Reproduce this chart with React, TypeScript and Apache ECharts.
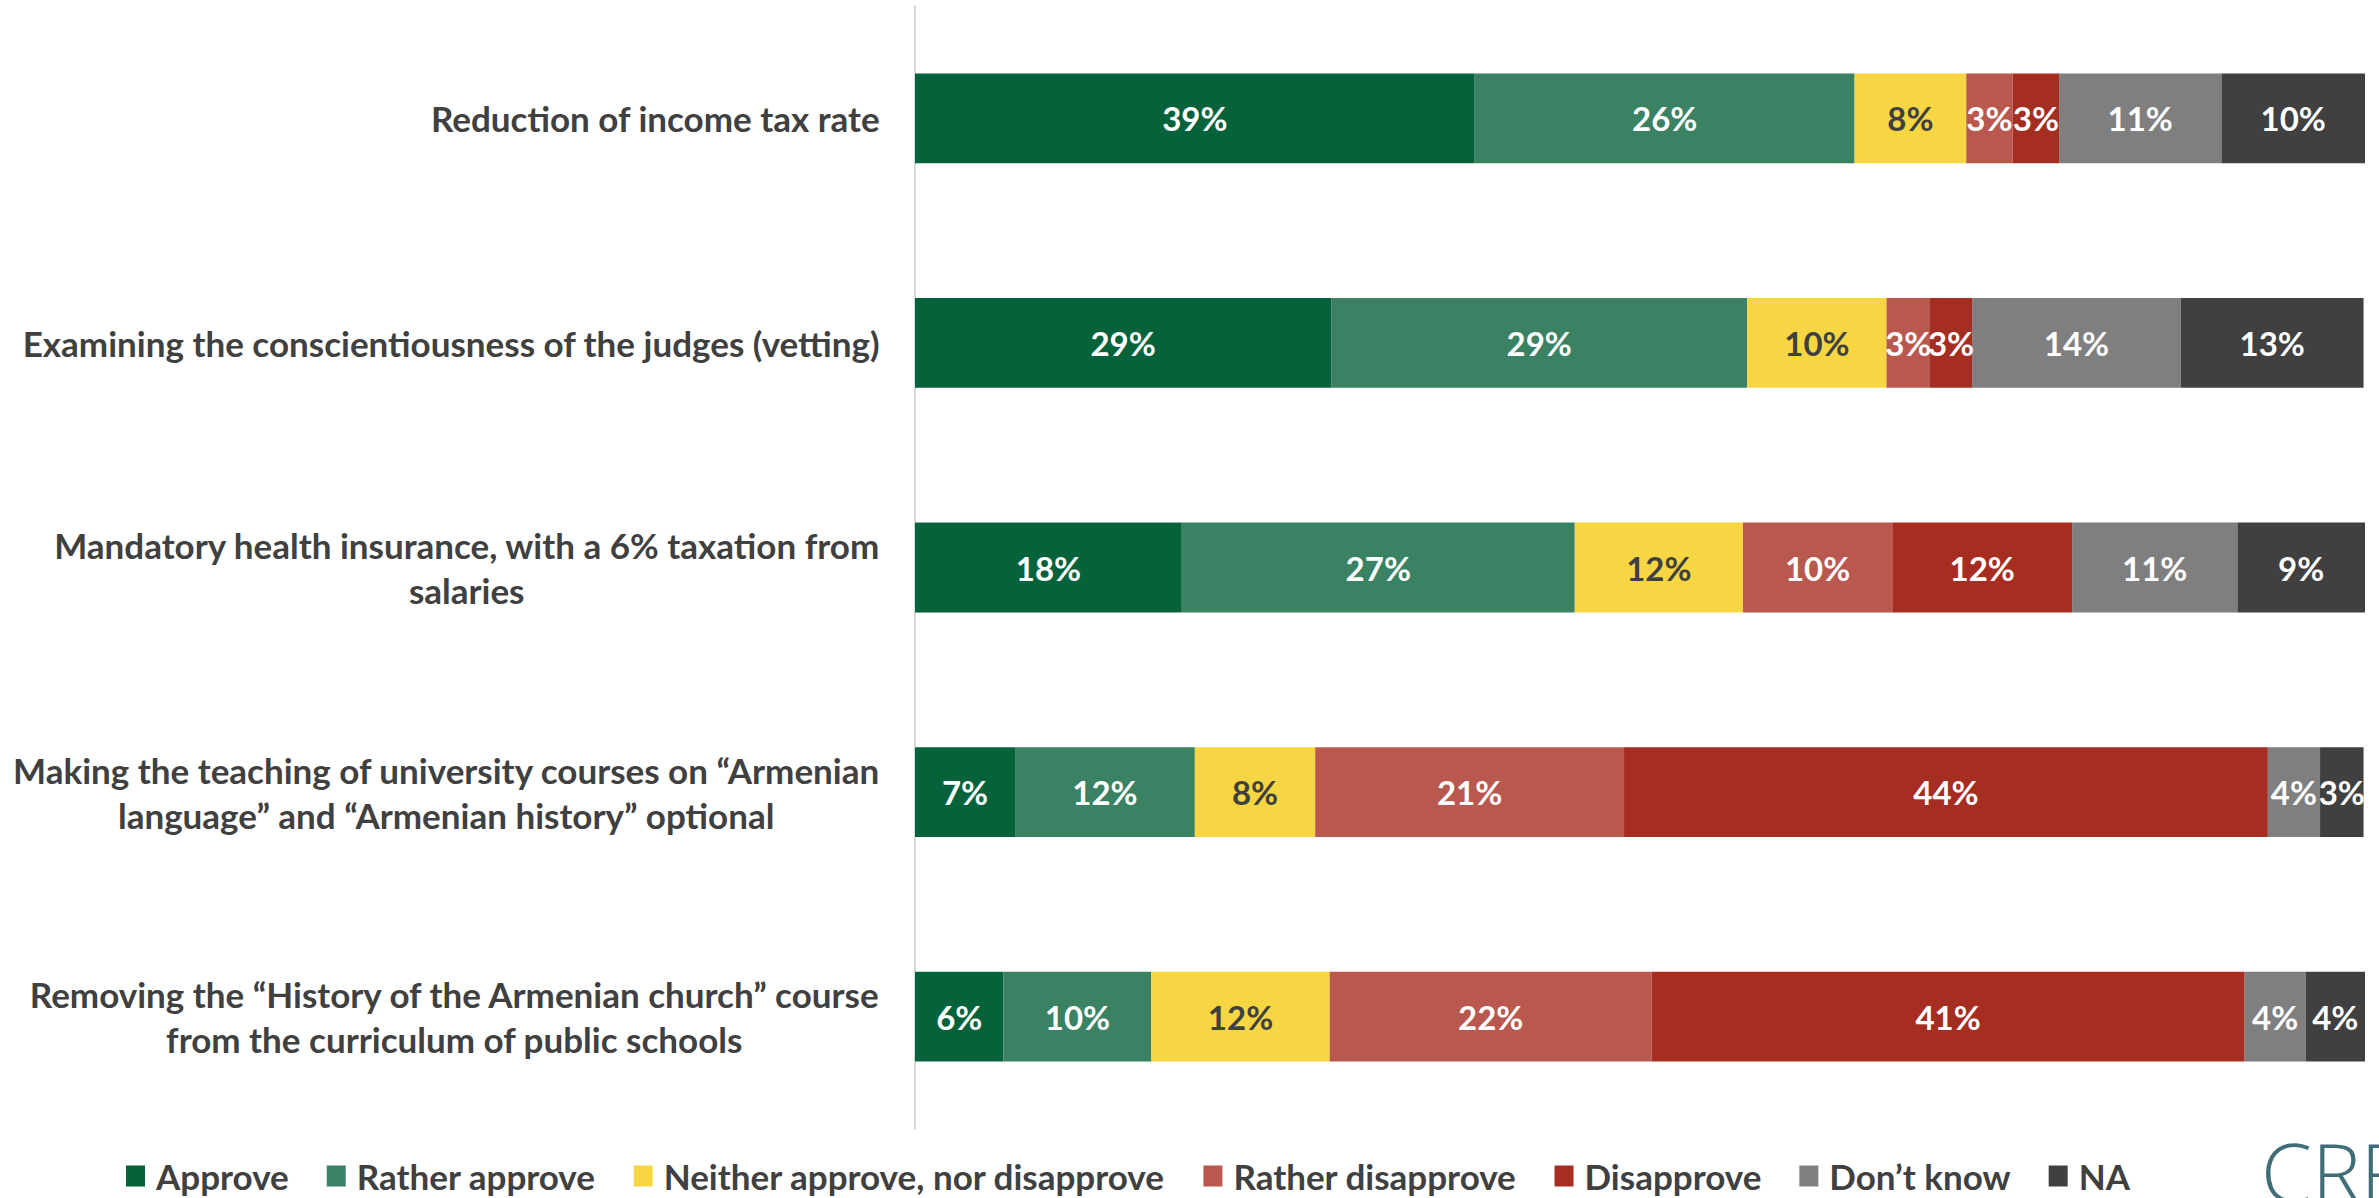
import React, { useEffect, useRef } from "react";
import * as echarts from "echarts";

const categories = [
  "Reduction of income tax rate",
  "Examining the conscientiousness of the judges (vetting)",
  "Mandatory health insurance, with a 6% taxation from\nsalaries",
  "Making the teaching of university courses on “Armenian\nlanguage” and “Armenian history” optional",
  "Removing the “History of the Armenian church” course\nfrom the curriculum of public schools",
];

const seriesNames = [
  "Approve",
  "Rather approve",
  "Neither approve, nor disapprove",
  "Rather disapprove",
  "Disapprove",
  "Don’t know",
  "NA",
];

const approve = [38.6, 28.7, 18.4, 6.9, 6.1];
const ratherApprove = [26.2, 28.7, 27.1, 12.4, 10.2];
const neither = [7.7, 9.6, 11.6, 8.3, 12.3];
const ratherDisapprove = [3.2, 3.0, 10.3, 21.3, 22.2];
const disapprove = [3.2, 2.9, 12.4, 44.4, 40.9];
const dontKnow = [11.2, 14.4, 11.4, 3.6, 4.2];
const na = [10.0, 12.6, 8.8, 3.0, 4.1];

const seriesValues = [approve, ratherApprove, neither, ratherDisapprove, disapprove, dontKnow, na];
const colors = ["#06623B", "#3A8263", "#F6D743", "#B8584E", "#A52D22", "#7F7F7F", "#404040"];
const labelColors = ["#FFFFFF", "#FFFFFF", "#404040", "#FFFFFF", "#FFFFFF", "#FFFFFF", "#FFFFFF"];

const FONT = "Lato, 'Open Sans', sans-serif";

export default function App() {
  const ref = useRef<HTMLDivElement>(null);
  useEffect(() => {
    if (!ref.current) return;
    const chart = echarts.init(ref.current, undefined, { renderer: "svg" });
    chart.setOption({
      animation: false,
      backgroundColor: "#FFFFFF",
      textStyle: { fontFamily: FONT },
      grid: { left: 915, right: 14, top: 6, bottom: 69, containLabel: false },
      xAxis: {
        type: "value",
        min: 0,
        max: 100,
        show: false,
      },
      yAxis: {
        type: "category",
        data: categories,
        inverse: true,
        axisLine: { show: true, lineStyle: { color: "#D9D9D9", width: 2 } },
        axisTick: { show: false },
        splitLine: { show: false },
        axisLabel: {
          margin: 35,
          color: "#404040",
          fontFamily: FONT,
          fontWeight: "bold",
          fontSize: 35,
          lineHeight: 45,
          formatter: (v: string) =>
            v
              .split("\n")
              .map((l) => "{c|" + l + "}")
              .join("\n"),
          rich: {
            c: {
              align: "center",
              color: "#404040",
              fontFamily: FONT,
              fontWeight: "bold",
              fontSize: 35,
              lineHeight: 45,
            },
          },
        },
      },
      legend: {
        data: seriesNames,
        left: 121,
        top: 1153,
        icon: "rect",
        itemWidth: 19,
        itemHeight: 21,
        itemGap: 38,
        textStyle: {
          color: "#404040",
          fontFamily: FONT,
          fontWeight: "bold",
          fontSize: 35,
          lineHeight: 36,
          padding: [0, 0, 0, 6],
        },
      },
      graphic: [
        {
          type: "text",
          x: 2261,
          y: 1170,
          silent: true,
          style: {
            text: "CRRC",
            font: "300 82px 'Open Sans', sans-serif",
            fill: "#3F6E78",
            verticalAlign: "middle",
            align: "left",
          },
        },
      ],
      series: seriesNames.map((name, i) => ({
        name,
        type: "bar",
        stack: "total",
        barCategoryGap: "60%",
        data: seriesValues[i],
        itemStyle: { color: colors[i] },
        label: {
          show: true,
          position: "inside",
          color: labelColors[i],
          fontFamily: FONT,
          fontWeight: "bold",
          fontSize: 33,
          formatter: (p: any) => Math.round(p.value) + "%",
        },
      })),
    });
    return () => chart.dispose();
  }, []);
  return (
    <div
      ref={ref}
      style={{ position: "fixed", left: 0, top: 0, width: 2379, height: 1198 }}
    />
  );
}
